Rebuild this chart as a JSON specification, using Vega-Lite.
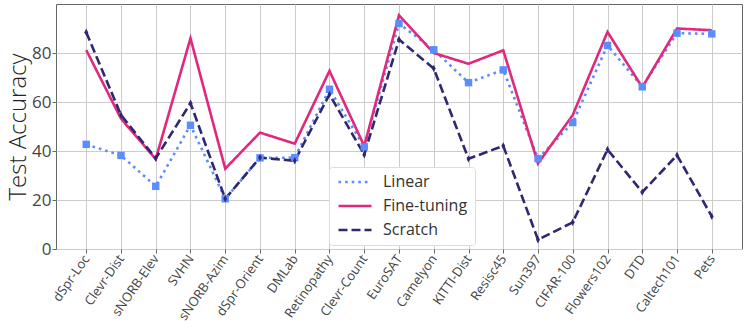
{
  "$schema": "https://vega.github.io/schema/vega-lite/v6.json",
  "width": 686,
  "height": 245,
  "autosize": {"type": "none"},
  "padding": {"left": 56, "top": 4, "right": 6, "bottom": 78},
  "config": {
    "font": "Open Sans",
    "view": {"stroke": "#666", "strokeWidth": 1},
    "axis": {
      "gridColor": "#cccccc",
      "gridWidth": 1,
      "domain": false,
      "tickColor": "#666",
      "tickSize": 4,
      "labelFont": "Open Sans",
      "labelColor": "#444",
      "titleFont": "Open Sans"
    }
  },
  "data": {
    "values": [
      {"task": "dSpr-Loc", "model": "Linear", "acc": 42.7},
      {"task": "Clevr-Dist", "model": "Linear", "acc": 38.2},
      {"task": "sNORB-Elev", "model": "Linear", "acc": 25.6},
      {"task": "SVHN", "model": "Linear", "acc": 50.5},
      {"task": "sNORB-Azim", "model": "Linear", "acc": 20.5},
      {"task": "dSpr-Orient", "model": "Linear", "acc": 37.2},
      {"task": "DMLab", "model": "Linear", "acc": 37.3},
      {"task": "Retinopathy", "model": "Linear", "acc": 65.2},
      {"task": "Clevr-Count", "model": "Linear", "acc": 41.7},
      {"task": "EuroSAT", "model": "Linear", "acc": 92.0},
      {"task": "Camelyon", "model": "Linear", "acc": 81.3},
      {"task": "KITTI-Dist", "model": "Linear", "acc": 67.9},
      {"task": "Resisc45", "model": "Linear", "acc": 73.1},
      {"task": "Sun397", "model": "Linear", "acc": 36.9},
      {"task": "CIFAR-100", "model": "Linear", "acc": 51.6},
      {"task": "Flowers102", "model": "Linear", "acc": 83.1},
      {"task": "DTD", "model": "Linear", "acc": 66.2},
      {"task": "Caltech101", "model": "Linear", "acc": 88.1},
      {"task": "Pets", "model": "Linear", "acc": 87.8},
      {"task": "dSpr-Loc", "model": "Fine-tuning", "acc": 81.2},
      {"task": "Clevr-Dist", "model": "Fine-tuning", "acc": 53.2},
      {"task": "sNORB-Elev", "model": "Fine-tuning", "acc": 36.7},
      {"task": "SVHN", "model": "Fine-tuning", "acc": 86.0},
      {"task": "sNORB-Azim", "model": "Fine-tuning", "acc": 32.8},
      {"task": "dSpr-Orient", "model": "Fine-tuning", "acc": 47.5},
      {"task": "DMLab", "model": "Fine-tuning", "acc": 43.0},
      {"task": "Retinopathy", "model": "Fine-tuning", "acc": 72.7},
      {"task": "Clevr-Count", "model": "Fine-tuning", "acc": 42.0},
      {"task": "EuroSAT", "model": "Fine-tuning", "acc": 95.4},
      {"task": "Camelyon", "model": "Fine-tuning", "acc": 80.0},
      {"task": "KITTI-Dist", "model": "Fine-tuning", "acc": 75.6},
      {"task": "Resisc45", "model": "Fine-tuning", "acc": 81.1},
      {"task": "Sun397", "model": "Fine-tuning", "acc": 34.9},
      {"task": "CIFAR-100", "model": "Fine-tuning", "acc": 54.7},
      {"task": "Flowers102", "model": "Fine-tuning", "acc": 88.6},
      {"task": "DTD", "model": "Fine-tuning", "acc": 66.0},
      {"task": "Caltech101", "model": "Fine-tuning", "acc": 90.0},
      {"task": "Pets", "model": "Fine-tuning", "acc": 89.3},
      {"task": "dSpr-Loc", "model": "Scratch", "acc": 88.5},
      {"task": "Clevr-Dist", "model": "Scratch", "acc": 54.7},
      {"task": "sNORB-Elev", "model": "Scratch", "acc": 37.0},
      {"task": "SVHN", "model": "Scratch", "acc": 59.5},
      {"task": "sNORB-Azim", "model": "Scratch", "acc": 20.5},
      {"task": "dSpr-Orient", "model": "Scratch", "acc": 37.3},
      {"task": "DMLab", "model": "Scratch", "acc": 36.0},
      {"task": "Retinopathy", "model": "Scratch", "acc": 63.1},
      {"task": "Clevr-Count", "model": "Scratch", "acc": 38.5},
      {"task": "EuroSAT", "model": "Scratch", "acc": 85.5},
      {"task": "Camelyon", "model": "Scratch", "acc": 73.7},
      {"task": "KITTI-Dist", "model": "Scratch", "acc": 36.8},
      {"task": "Resisc45", "model": "Scratch", "acc": 42.1},
      {"task": "Sun397", "model": "Scratch", "acc": 3.8},
      {"task": "CIFAR-100", "model": "Scratch", "acc": 10.9},
      {"task": "Flowers102", "model": "Scratch", "acc": 40.6},
      {"task": "DTD", "model": "Scratch", "acc": 23.2},
      {"task": "Caltech101", "model": "Scratch", "acc": 38.3},
      {"task": "Pets", "model": "Scratch", "acc": 13.3}
    ]
  },
  "encoding": {
    "x": {
      "field": "task",
      "type": "nominal",
      "sort": null,
      "scale": {"type": "point", "padding": 0.87},
      "axis": {"title": null, "labelAngle": -55, "labelFontSize": 13, "grid": true, "labelPadding": 3}
    },
    "y": {
      "field": "acc",
      "type": "quantitative",
      "scale": {"domain": [0, 100], "nice": false},
      "axis": {
        "title": "Test Accuracy",
        "titleFontSize": 24,
        "titleFontWeight": 300,
        "titleColor": "#222",
        "titleX": -38,
        "titleBaseline": "middle",
        "values": [0, 20, 40, 60, 80],
        "labelFontSize": 17,
        "labelPadding": 1,
        "grid": true
      }
    },
    "color": {
      "field": "model",
      "type": "nominal",
      "scale": {
        "domain": ["Linear", "Fine-tuning", "Scratch"],
        "range": ["#5C8DFF", "#E0287D", "#2E2870"]
      }
    }
  },
  "layer": [
    {
      "mark": {"type": "line", "strokeWidth": 2.6, "strokeCap": "butt"},
      "encoding": {
        "color": {
          "field": "model",
          "type": "nominal",
          "scale": {
            "domain": ["Linear", "Fine-tuning", "Scratch"],
            "range": ["#5C8DFF", "#E0287D", "#2E2870"]
          },
          "legend": {
            "title": null,
            "orient": "none",
            "legendX": 273,
            "legendY": 163,
            "symbolType": "M-3,0H3",
            "symbolSize": 121,
            "symbolStrokeWidth": 2.6,
            "symbolOffset": 11,
            "labelFontSize": 16,
            "labelColor": "#333",
            "labelFont": "Open Sans",
            "fillColor": "white",
            "strokeColor": "#dddddd",
            "cornerRadius": 3,
            "padding": 7,
            "rowPadding": 8,
            "labelOffset": 20
          }
        },
        "strokeDash": {
          "field": "model",
          "type": "nominal",
          "scale": {
            "domain": ["Linear", "Fine-tuning", "Scratch"],
            "range": [[2.6, 4], [1, 0], [9, 4]]
          },
          "legend": null
        }
      }
    },
    {
      "transform": [{"filter": "datum.model != 'Fine-tuning'"}],
      "mark": {"type": "point", "filled": true, "opacity": 1},
      "encoding": {
        "shape": {
          "field": "model",
          "type": "nominal",
          "scale": {
            "domain": ["Linear", "Scratch"],
            "range": ["square", "M0,-1L0.5,0L0,1L-0.5,0Z"]
          },
          "legend": null
        },
        "size": {"value": 55}
      }
    }
  ]
}
